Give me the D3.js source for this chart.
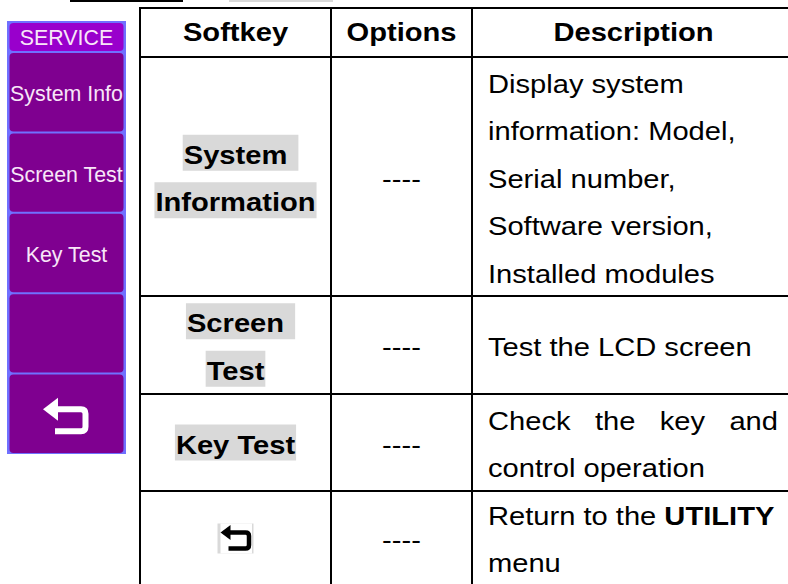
<!DOCTYPE html>
<html><head><meta charset="utf-8">
<script src="https://cdn.jsdelivr.net/npm/d3@7"></script>
<style>body{margin:0;background:#fff}svg{display:block}</style>
</head><body><svg id="c" width="788" height="584"></svg>
<script>
// ---- data ----
const headers = ["Softkey", "Options", "Description"];
const softkeys = [["System ", "Information"], ["Screen ", "Test"], ["Key Test"], ["<back>"]];
const options = ["----", "----", "----", "----"];
const descriptions = [
  ["Display system", "information: Model,", "Serial number,", "Software version,", "Installed modules"],
  ["Test the LCD screen"],
  ["Check the key and", "control operation"],
  ["Return to the **UTILITY**", "menu"]
];
const descAlign = ["left", "left", "justify", "left"];
const menuTitle = "SERVICE";
const menuItems = ["System Info", "Screen Test", "Key Test", "", "<back>"];

// ---- layout ----
const FONT = "'Liberation Sans', Arial, Helvetica, sans-serif";
const SX = 1.165, FS = 25, LH = 47.5;
const colX = [140, 331, 472, 795];
const rowY = [8, 57, 296, 394, 491, 620];
const svg = d3.select("#c");

// top fragments
svg.append("rect").attr("x", 70).attr("y", 0).attr("width", 113).attr("height", 2).attr("fill", "#000");
svg.append("rect").attr("x", 229).attr("y", 0).attr("width", 104).attr("height", 2).attr("fill", "#d9d9d9");

// ---- softkey panel ----
const panel = svg.append("g");
const px0 = 7, px1 = 126, pTop = 21, pHead = 52, pBot = 454;
panel.append("rect").attr("x", px0).attr("y", pTop).attr("width", px1 - px0).attr("height", pBot - pTop)
  .attr("fill", "#7070ff");
panel.append("rect").attr("x", px0 + 2.5).attr("y", pTop + 2).attr("width", px1 - px0 - 5).attr("height", pHead - pTop - 3)
  .attr("rx", 4).attr("fill", "#9900cc");
const band = d3.scaleBand().domain(d3.range(menuItems.length)).range([pHead, pBot]);
const pcx = (px0 + px1) / 2;
function panelText(x, y, s) {
  panel.append("text").attr("transform", `translate(${x},${y}) scale(0.93,1)`)
    .attr("text-anchor", "middle").attr("font-family", FONT).attr("font-size", 23)
    .attr("fill", "#f8e6f8").text(s);
}
panelText(pcx, 45, menuTitle);
menuItems.forEach((m, i) => {
  const y = band(i), h = band.bandwidth();
  panel.append("rect").attr("x", px0 + 2.5).attr("y", y + 1).attr("width", px1 - px0 - 5).attr("height", h - 2)
    .attr("rx", 4).attr("fill", "#7f0090");
  const cy = y + h / 2;
  if (m === "<back>") {
    panel.append("path").attr("d", `M56,${cy - 4.5} H81 Q85.5,${cy - 4.5} 85.5,${cy} V${cy + 13} Q85.5,${cy + 17.5} 81,${cy + 17.5} H55`)
      .attr("fill", "none").attr("stroke", "#fff").attr("stroke-width", 6);
    panel.append("path").attr("d", `M43,${cy - 4.5} L58,${cy - 16} L58,${cy + 7} Z`).attr("fill", "#fff");
  } else if (m) {
    panelText(pcx, cy + 9, m);
  }
});

// ---- table ----
const tbl = svg.append("g");
function txt(g, x, y, s, bold, anchor) {
  const t = g.append("text").attr("transform", `translate(${x},${y}) scale(${SX},1)`)
    .attr("text-anchor", anchor || "start").attr("font-family", FONT).attr("font-size", FS).attr("fill", "#000");
  const parts = s.split("**");
  parts.forEach((p, i) => {
    if (!p) return;
    t.append("tspan").attr("font-weight", (bold || i % 2 === 1) ? "bold" : "normal").text(p);
  });
  return t;
}
// headers
headers.forEach((h, i) => {
  txt(tbl, (colX[i] + colX[i + 1]) / 2, 41, h, true, "middle");
});
const pad = 16;
softkeys.forEach((lines, r) => {
  const top = rowY[r + 1], bot = rowY[r + 2];
  const cy = (top + Math.min(bot, 584)) / 2;
  const cx = (colX[0] + colX[1]) / 2;
  const n = lines.length;
  lines.forEach((s, i) => {
    const base = cy + 11 + (i - (n - 1) / 2) * LH;
    const g = tbl.append("g");
    if (s === "<back>") {
      const iy = base - 11;
      g.append("rect").attr("x", cx - 18).attr("y", iy - 14).attr("width", 36).attr("height", 30).attr("fill", "#d9d9d9");
      g.append("rect").attr("x", cx - 15).attr("y", iy - 14).attr("width", 31.5).attr("height", 30).attr("fill", "#fff");
      g.append("path").attr("d", `M${cx - 6},${iy - 5} H${cx + 10} Q${cx + 13.5},${iy - 5} ${cx + 13.5},${iy - 1.5} V${iy + 7.5} Q${cx + 13.5},${iy + 11} ${cx + 10},${iy + 11} H${cx - 7}`)
        .attr("fill", "none").attr("stroke", "#000").attr("stroke-width", 4.5);
      g.append("path").attr("d", `M${cx - 15},${iy - 5} L${cx - 5},${iy - 12.5} L${cx - 5},${iy + 2.5} Z`).attr("fill", "#000");
      return;
    }
    const trimmed = s.replace(/\s+$/, "");
    const trail = s.length !== trimmed.length;
    const rect = g.append("rect").attr("fill", "#d9d9d9");
    const t = txt(g, cx, base, trimmed, true, "middle");
    const w = t.node().getComputedTextLength() * SX;
    const sp = trail ? 0.278 * FS * SX + 2 : 0;
    rect.attr("x", cx - w / 2 - 1).attr("y", base - 29).attr("width", w + 2 + sp).attr("height", 36);
  });
  // options
  txt(tbl, (colX[1] + colX[2]) / 2, cy + 11, options[r], false, "middle");
  // descriptions
  const dl = descriptions[r];
  const dn = dl.length;
  dl.forEach((s, i) => {
    const base = cy + 11 + (i - (dn - 1) / 2) * LH;
    const x0 = colX[2] + pad, x1 = colX[3] - pad - 1;
    if (descAlign[r] === "justify" && i < dn - 1) {
      const words = s.split(" ");
      const ts = words.map(w => txt(tbl, 0, base, w, false, "start"));
      const ws = ts.map(t => t.node().getComputedTextLength() * SX);
      const gap = (x1 - x0 - d3.sum(ws)) / (words.length - 1);
      let x = x0;
      ts.forEach((t, k) => { t.attr("transform", `translate(${x},${base}) scale(${SX},1)`); x += ws[k] + gap; });
    } else {
      txt(tbl, x0, base, s, false, "start");
    }
  });
});
// grid lines
const lines = svg.append("g").attr("stroke", "#000").attr("stroke-width", 2);
colX.forEach(x => lines.append("line").attr("x1", x).attr("x2", x).attr("y1", rowY[0] - 1).attr("y2", 590));
rowY.forEach(y => lines.append("line").attr("x1", colX[0] - 1).attr("x2", 800).attr("y1", y).attr("y2", y));
</script>
</body></html>
